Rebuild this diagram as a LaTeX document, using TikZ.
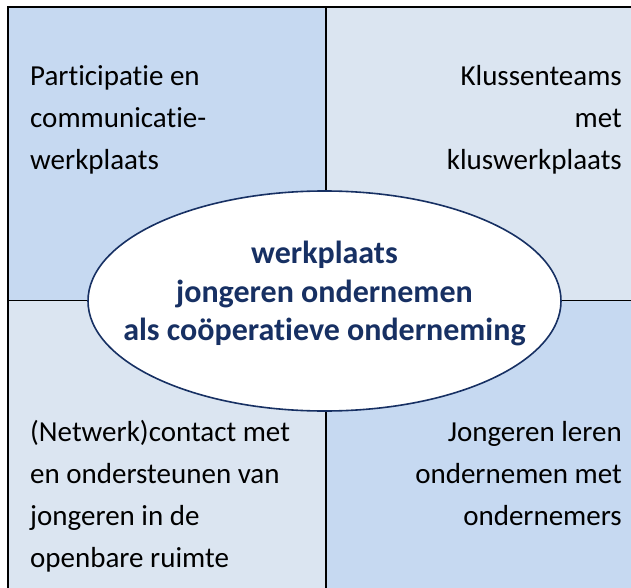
\documentclass[tikz,border=0pt]{standalone}
\usepackage{fontspec}
\setmainfont{Carlito}[Ligatures=NoCommon]
\usetikzlibrary{positioning,shapes}
\definecolor{darkfill}{RGB}{198,217,241}
\definecolor{lightfill}{RGB}{219,229,241}
\definecolor{navy}{RGB}{23,48,99}
\tikzset{
    body/.style={inner sep=0pt, font=\fontsize{29}{42}\selectfont},
    frame/.style={line width=1.6pt, black}
}

\begin{document}
\begin{tikzpicture}[x=1pt,y=-1pt]
\useasboundingbox (0,0) rectangle (631,588);

\foreach \xa/\ya/\xb/\yb/\fillcolor in {8/7/326/300.5/darkfill, 326/7/631/300.5/lightfill, 8/300.5/326/588/lightfill, 326/300.5/631/588/darkfill} {
    \fill[\fillcolor] (\xa,\ya) rectangle (\xb,\yb);
}

\draw[frame] (631,7) -- (8,7) -- (8,588);
\draw[frame] (326,7) -- (326,588);
\draw[frame] (8,300.5) -- (631,300.5);

% anchors sit on the last line
\node[body, anchor=base west, align=left] (participatie) at (30,170) {Participatie en\\communicatie-\\werkplaats};
\node[body, anchor=base east, align=right] (klussen) at (622,170) {Klussenteams\\met\\kluswerkplaats};
\node[body, anchor=base west, align=left] (netwerk) at (30,567) {(Netwerk)contact met\\en ondersteunen van\\jongeren in de\\openbare ruimte};
\node[body, anchor=base east, align=right] (jongeren) at (622,525) {Jongeren leren\\ondernemen met\\ondernemers};

% negative xsep keeps the wide text from stretching the ellipse
\node[ellipse, draw=navy, line width=1.6pt, fill=white, minimum width=473, minimum height=220,
      inner xsep=-36pt, inner ysep=0pt, text depth=20pt,
      text=navy, font=\bfseries\fontsize{32}{38.5}\selectfont, align=center] (werkplaats) at (324.5,301)
      {werkplaats\\jongeren ondernemen\\als coöperatieve onderneming};
\end{tikzpicture}
\end{document}
